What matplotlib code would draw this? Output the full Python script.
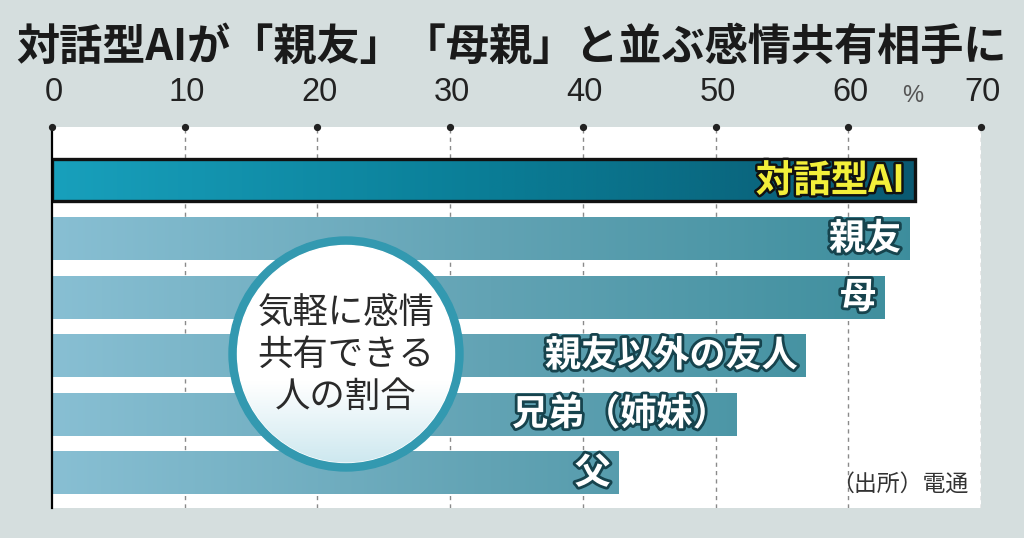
import numpy as np
import matplotlib
matplotlib.use('Agg')
import matplotlib.pyplot as plt
from matplotlib.patches import Circle, Rectangle
from matplotlib.colors import LinearSegmentedColormap
import matplotlib.patheffects as pe

# ---------------- data ----------------
categories = ['対話型AI', '親友', '母', '親友以外の友人', '兄弟（姉妹）', '父']
values = [65.0, 64.6, 62.7, 56.8, 51.6, 42.7]
ticks = [0, 10, 20, 30, 40, 50, 60, 70]
tick_labels = ['0', '10', '20', '30', '40', '50', '60', '70']
unit_label = '%'
title = '対話型AIが「親友」「母親」と並ぶ感情共有相手に'
circle_text = '気軽に感情\n共有できる\n人の割合'
source = '（出所）電通'

JP = ['Noto Sans CJK JP', 'DejaVu Sans']
NUM = ['Liberation Sans', 'DejaVu Sans']
plt.rcParams['font.family'] = JP

W, H = 1024, 538
BG = '#d5dede'
fig = plt.figure(figsize=(W / 100, H / 100), dpi=100, facecolor=BG)

# main axes (pixel geometry of the white plot area)
x0, x1, ytop, ybot = 52, 981, 127, 508
ax = fig.add_axes([x0 / W, 1 - ybot / H, (x1 - x0) / W, (ybot - ytop) / H])
ax.set_facecolor('white')
ax.set_xlim(0, 70)
pitch = 58.6
ax.set_ylim(len(values) - 1 + (ybot - 473) / pitch, -(180.5 - ytop) / pitch)
for s in ['top', 'right', 'bottom']:
    ax.spines[s].set_visible(False)
ax.spines['left'].set_color('black')
ax.spines['left'].set_linewidth(1.6)
ax.spines['left'].set_zorder(10)
ax.set_yticks([])
ax.set_xticks([])

# dashed grid lines
for t in ticks[1:]:
    ax.axvline(t, color='#8a8a8a', lw=1.0, ls=(0, (3, 3)), zorder=1)

# tick dots and labels
yl = ax.get_ylim()
ax.plot(ticks, [yl[1]] * len(ticks), 'o', ms=4.2, color='#222222', clip_on=False, zorder=12)
for t, lab in zip(ticks, tick_labels):
    ax.annotate(lab, (t, yl[1]), xytext=(2, 19), textcoords='offset pixels',
                ha='center', va='bottom', fontsize=23.5, color='#222222', family=NUM,
                annotation_clip=False)
ax.annotate(unit_label, (65, yl[1]), xytext=(-2, 20), textcoords='offset pixels',
            ha='center', va='bottom', fontsize=17, color='#555555', family=NUM,
            annotation_clip=False)

# gradient bars
light = LinearSegmentedColormap.from_list('light', ['#88bfd3', '#62a3b4', '#3c8d9c'])
dark = LinearSegmentedColormap.from_list('dark', ['#18a0bc', '#0a7d96', '#0a5870'])
bh = 0.72
for i, (c, v) in enumerate(zip(categories, values)):
    xs = np.linspace(0, v, 300)
    cmap = dark if i == 0 else light
    grad = cmap(xs / 66.0)[None, :, :]
    ax.imshow(grad, extent=(0, v, i + bh / 2, i - bh / 2), aspect='auto',
              interpolation='bilinear', zorder=3)
    if i == 0:
        ax.add_patch(Rectangle((0, i - bh / 2), v, bh, fill=False, ec='#111111', lw=2.4, zorder=4))
        txt = ax.annotate(c, (v, i), xytext=(-10, 0), textcoords='offset pixels',
                          ha='right', va='center', fontsize=27, fontweight='bold',
                          color='#f3ef3a', zorder=6)
        txt.set_path_effects([pe.withStroke(linewidth=3.5, foreground='#111111')])
    else:
        txt = ax.annotate(c, (v, i), xytext=(-8, 0), textcoords='offset pixels',
                          ha='right', va='center', fontsize=26, fontweight='bold',
                          color='white', zorder=6)
        txt.set_path_effects([pe.withStroke(linewidth=4, foreground='#16434d')])
ax.set_xlim(0, 70)
ax.set_ylim(*yl)

# overlay axes in pixel coordinates
ov = fig.add_axes([0, 0, 1, 1], zorder=20)
ov.set_xlim(0, W)
ov.set_ylim(H, 0)
ov.axis('off')
ov.patch.set_alpha(0)

# circle
cx, cy, r = 346, 354, 117
ring = Circle((cx, cy), r, color='#3399b0', zorder=1)
ov.add_patch(ring)
inner = Circle((cx, cy), r - 8.5, color='white', zorder=2)
ov.add_patch(inner)
gy = np.linspace(0, 1, 200)
cmap_c = LinearSegmentedColormap.from_list('c', [(0, '#ffffff'), (0.62, '#ffffff'), (1, '#c9e6ee')])
img = ov.imshow(cmap_c(gy)[:, None, :], extent=(cx - r, cx + r, cy + r, cy - r),
                aspect='auto', zorder=3, interpolation='bilinear')
img.set_clip_path(inner)
ov.text(cx, cy + 1, circle_text, ha='center', va='center', fontsize=25.5,
        color='#2a2a2a', linespacing=1.2, zorder=5)

# title fitted to the original width
fig.canvas.draw()
t = ov.text(511, 47, title, ha='center', va='center', fontsize=28,
            fontweight='bold', color='#1a1a1a')
bb = t.get_window_extent(fig.canvas.get_renderer())
t.set_fontsize(28 * 992 / bb.width)

# source
ov.text(968, 484, source, ha='right', va='center', fontsize=16.5, color='#333333')

fig.savefig('out.png', dpi=100, facecolor=BG)
